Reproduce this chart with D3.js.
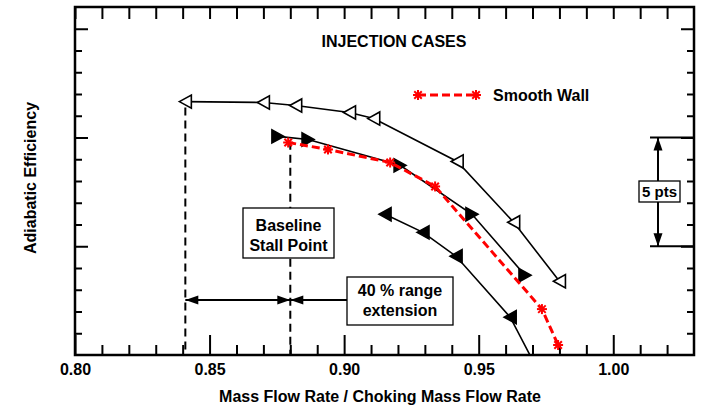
<!DOCTYPE html>
<html>
<head>
<meta charset="utf-8">
<script src="https://cdn.jsdelivr.net/npm/d3@7"></script>
<style>
  html, body { margin: 0; padding: 0; background: #fff; }
  svg text { font-family: "Liberation Sans", Arial, Helvetica, sans-serif; font-weight: bold; fill: #000; }
</style>
</head>
<body>
<svg id="chart" width="702" height="411"></svg>
<script>
// Injection case A (open left triangles)
const flowA = [0.841, 0.870, 0.882, 0.902, 0.911, 0.942, 0.963, 0.980];
const effA  = [0.8165, 0.8161, 0.8147, 0.8115, 0.8087, 0.7890, 0.7610, 0.7339];
// Injection case B (filled right triangles)
const flowB = [0.8754, 0.8866, 0.9208, 0.9475, 0.9672];
const effB  = [0.8005, 0.7991, 0.7872, 0.7647, 0.7367];
// Injection case C (filled left triangles); last point lies below the frame
const flowC = [0.9152, 0.9293, 0.9416, 0.9617, 0.9724];
const effC  = [0.7647, 0.7564, 0.7454, 0.7174, 0.6920];
// Smooth wall baseline (red dashed, asterisks)
const flowS = [0.8792, 0.8940, 0.9171, 0.9338, 0.9735, 0.9795];
const effS  = [0.7977, 0.7945, 0.7885, 0.7775, 0.7211, 0.7046];

// Axis ticks
const xMajorTicks = [0.80, 0.85, 0.90, 0.95, 1.00];
const xMinorTicks = [0.81,0.82,0.83,0.84,0.86,0.87,0.88,0.89,0.91,0.92,0.93,0.94,0.96,0.97,0.98,0.99,1.01,1.02];
const yMajorTicks = [0.75, 0.80, 0.85];
const yMinorTicks = [0.71,0.72,0.73,0.74,0.76,0.77,0.78,0.79,0.81,0.82,0.83,0.84];

// Reference markers
const stallFlowSmooth = 0.880;   // baseline stall point
const stallFlowInjected = 0.841; // injected stall point
const stallEffSmooth = 0.798;
const bracketEff = [0.80, 0.75]; // 5 pts bracket

const svg = d3.select("#chart");
const pLeft = 75, pRight = 694, pTop = 7, pBottom = 355;

const x = d3.scaleLinear().domain([0.80, 1.03]).range([pLeft, pRight]);
const y = d3.scaleLinear().domain([0.70, 0.86]).range([pBottom, pTop]);

svg.append("defs").append("clipPath").attr("id", "plotClip")
  .append("rect").attr("x", pLeft).attr("y", pTop).attr("width", pRight - pLeft).attr("height", pBottom - pTop);

// ---- axes (inward ticks on all four sides) ----
function styleAxis(g) {
  g.select(".domain").remove();
  g.selectAll(".tick line").attr("stroke", "#000").attr("stroke-width", 2);
}
svg.append("g").attr("transform", `translate(0,${pBottom})`)
  .call(d3.axisBottom(x).tickValues(xMajorTicks).tickSize(-20).tickPadding(9).tickFormat(d3.format(".2f")))
  .call(styleAxis)
  .call(g => g.attr("font-family", null).attr("font-size", null))
  .call(g => g.selectAll("text").style("font-size", "16px"));
svg.append("g").attr("transform", `translate(0,${pBottom})`)
  .call(d3.axisBottom(x).tickValues(xMinorTicks).tickSize(-10).tickFormat(""))
  .call(styleAxis);
svg.append("g").attr("transform", `translate(0,${pTop})`)
  .call(d3.axisTop(x).tickValues(xMajorTicks.concat(xMinorTicks)).tickSize(-12).tickFormat(""))
  .call(styleAxis);
[[d3.axisLeft, pLeft], [d3.axisRight, pRight]].forEach(([ax, pos]) => {
  svg.append("g").attr("transform", `translate(${pos},0)`)
    .call(ax(y).tickValues(yMajorTicks).tickSize(-13).tickFormat("")).call(styleAxis);
  svg.append("g").attr("transform", `translate(${pos},0)`)
    .call(ax(y).tickValues(yMinorTicks).tickSize(-7).tickFormat("")).call(styleAxis);
});

// frame
svg.append("rect").attr("x", pLeft).attr("y", pTop).attr("width", pRight - pLeft).attr("height", pBottom - pTop)
  .attr("fill", "none").attr("stroke", "#000").attr("stroke-width", 2.5);

// axis titles
svg.append("text").attr("x", 380).attr("y", 402).attr("text-anchor", "middle")
  .style("font-size", "16px").text("Mass Flow Rate / Choking Mass Flow Rate");
svg.append("text").attr("transform", "translate(36,178) rotate(-90)").attr("text-anchor", "middle")
  .style("font-size", "16px").text("Adiabatic Efficiency");

// ---- stall reference lines ----
const refs = svg.append("g");
refs.append("line").attr("x1", x(stallFlowInjected)).attr("x2", x(stallFlowInjected))
  .attr("y1", y(effA[0]) + 6).attr("y2", pBottom)
  .attr("stroke", "#000").attr("stroke-width", 2).attr("stroke-dasharray", "8,5");
refs.append("line").attr("x1", x(stallFlowSmooth)).attr("x2", x(stallFlowSmooth))
  .attr("y1", y(stallEffSmooth)).attr("y2", pBottom)
  .attr("stroke", "#000").attr("stroke-width", 2).attr("stroke-dasharray", "8,5");

// ---- series ----
const line = d3.line().x(d => x(d[0])).y(d => y(d[1]));
const plot = svg.append("g").attr("clip-path", "url(#plotClip)");

function triangle(dir, s) {
  // dir: -1 points left, +1 points right
  const h = s, w = s * 0.55;
  return `M${dir * h / 2},0L${-dir * h / 2},${-w}L${-dir * h / 2},${w}Z`;
}

function drawSeries(flow, eff, dir, filled) {
  const pts = flow.map((f, i) => [f, eff[i]]);
  plot.append("path").attr("d", line(pts)).attr("fill", "none").attr("stroke", "#000").attr("stroke-width", 1.6);
  plot.selectAll(null).data(pts).enter().append("path")
    .attr("transform", d => `translate(${x(d[0])},${y(d[1])})`)
    .attr("d", triangle(dir, 12))
    .attr("fill", filled ? "#000" : "#fff").attr("stroke", "#000").attr("stroke-width", 1.6);
}
drawSeries(flowA, effA, -1, false);
drawSeries(flowB, effB, 1, true);
drawSeries(flowC, effC, -1, true);

// smooth wall
function asterisk(g, cx, cy, r) {
  const a = g.append("g").attr("transform", `translate(${cx},${cy})`)
    .attr("stroke", "#ff0000").attr("stroke-width", 2);
  [[0, -r, 0, r], [-r, 0, r, 0], [-r * 0.75, -r * 0.75, r * 0.75, r * 0.75], [-r * 0.75, r * 0.75, r * 0.75, -r * 0.75]]
    .forEach(c => a.append("line").attr("x1", c[0]).attr("y1", c[1]).attr("x2", c[2]).attr("y2", c[3]));
}
const ptsS = flowS.map((f, i) => [f, effS[i]]);
plot.append("path").attr("d", line(ptsS)).attr("fill", "none")
  .attr("stroke", "#ff0000").attr("stroke-width", 3).attr("stroke-dasharray", "8,4");
ptsS.forEach(d => asterisk(plot, x(d[0]), y(d[1]), 5));

// ---- annotations ----
function arrowHead(g, tipX, tipY, dx, dy, len, half) {
  // dx,dy: unit direction the arrow points to
  const bx = tipX - dx * len, by = tipY - dy * len;
  const px = -dy * half, py = dx * half;
  g.append("path").attr("d", `M${tipX},${tipY}L${bx + px},${by + py}L${bx - px},${by - py}Z`).attr("fill", "#000");
}

// Baseline Stall Point box
const bx0 = 243, by0 = 208, bw = 91, bh = 50;
svg.append("rect").attr("x", bx0).attr("y", by0).attr("width", bw).attr("height", bh)
  .attr("fill", "#fff").attr("stroke", "#000").attr("stroke-width", 1.3);
svg.append("text").attr("x", bx0 + bw / 2).attr("y", by0 + 23).attr("text-anchor", "middle")
  .style("font-size", "16px").text("Baseline");
svg.append("text").attr("x", bx0 + bw / 2).attr("y", by0 + 43).attr("text-anchor", "middle")
  .style("font-size", "16px").text("Stall Point");

// range extension arrows
const ay = 300;
const ann = svg.append("g");
ann.append("line").attr("x1", x(stallFlowInjected)).attr("x2", x(stallFlowSmooth)).attr("y1", ay).attr("y2", ay)
  .attr("stroke", "#000").attr("stroke-width", 2);
ann.append("line").attr("x1", x(stallFlowSmooth)).attr("x2", 347).attr("y1", ay).attr("y2", ay)
  .attr("stroke", "#000").attr("stroke-width", 2);
arrowHead(ann, x(stallFlowInjected), ay, -1, 0, 13, 4.5);
arrowHead(ann, x(stallFlowSmooth), ay, 1, 0, 13, 4.5);
arrowHead(ann, x(stallFlowSmooth), ay, -1, 0, 13, 4.5);

const rx0 = 347, ry0 = 277, rw = 106, rh = 48;
svg.append("rect").attr("x", rx0).attr("y", ry0).attr("width", rw).attr("height", rh)
  .attr("fill", "#fff").attr("stroke", "#000").attr("stroke-width", 1.3);
svg.append("text").attr("x", rx0 + rw / 2).attr("y", ry0 + 19).attr("text-anchor", "middle")
  .style("font-size", "16px").text("40 % range");
svg.append("text").attr("x", rx0 + rw / 2).attr("y", ry0 + 39).attr("text-anchor", "middle")
  .style("font-size", "16px").text("extension");

// 5 pts bracket
const bxArrow = 658;
bracketEff.forEach(e => {
  svg.append("line").attr("x1", 650).attr("x2", pRight).attr("y1", y(e)).attr("y2", y(e))
    .attr("stroke", "#000").attr("stroke-width", 2);
});
svg.append("line").attr("x1", bxArrow).attr("x2", bxArrow).attr("y1", y(bracketEff[0])).attr("y2", y(bracketEff[1]))
  .attr("stroke", "#000").attr("stroke-width", 2);
arrowHead(svg, bxArrow, y(bracketEff[0]), 0, -1, 13, 4.5);
arrowHead(svg, bxArrow, y(bracketEff[1]), 0, 1, 13, 4.5);
svg.append("rect").attr("x", 639).attr("y", 181).attr("width", 41).attr("height", 21)
  .attr("fill", "#fff").attr("stroke", "#000").attr("stroke-width", 1.3);
svg.append("text").attr("x", 659.5).attr("y", 197).attr("text-anchor", "middle")
  .style("font-size", "15px").text("5 pts");

// title
svg.append("text").attr("x", 394).attr("y", 47).attr("text-anchor", "middle")
  .style("font-size", "16px").text("INJECTION CASES");

// legend
const lg = svg.append("g");
lg.append("line").attr("x1", 418).attr("x2", 476).attr("y1", 95).attr("y2", 95)
  .attr("stroke", "#ff0000").attr("stroke-width", 3).attr("stroke-dasharray", "8,4");
asterisk(lg, 418, 95, 5);
asterisk(lg, 476, 95, 5);
lg.append("text").attr("x", 493).attr("y", 101).style("font-size", "16px").text("Smooth Wall");
</script>
</body>
</html>
